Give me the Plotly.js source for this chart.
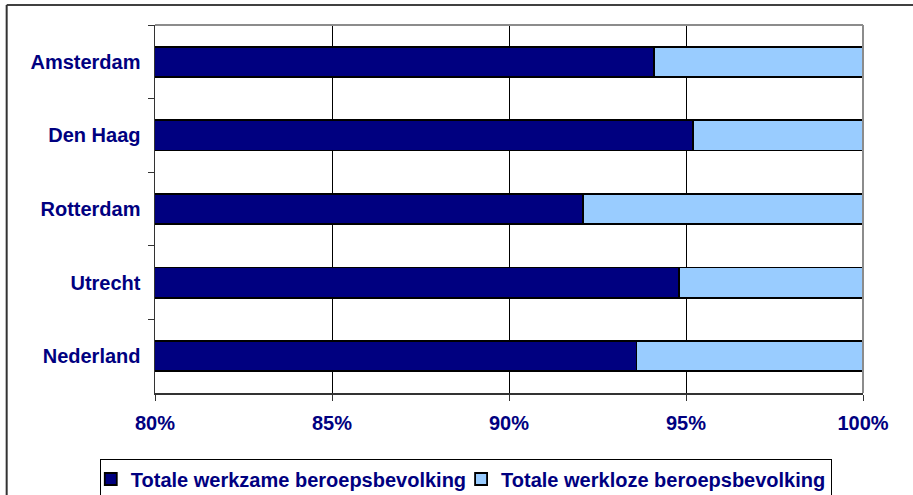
<!DOCTYPE html>
<html>
<head>
<meta charset="utf-8">
<script src="https://cdn.plot.ly/plotly-3.0.1.min.js"></script>
<style>
html,body{margin:0;padding:0;background:#fff;}
#chart{width:913px;height:495px;}
</style>
</head>
<body>
<div id="chart"></div>
<script>
const categories = ["Amsterdam", "Den Haag", "Rotterdam", "Utrecht", "Nederland"];
const werkzame = [94.1, 95.2, 92.1, 94.8, 93.6];
const werkloze = [5.9, 4.8, 7.9, 5.2, 6.4];
const xTickVals = [80, 85, 90, 95, 100];
const xTickText = ["80%", "85%", "90%", "95%", "100%"];
const seriesNames = ["Totale werkzame beroepsbevolking", "Totale werkloze beroepsbevolking"];

const navy = "#000080";
const font = "'Liberation Sans', Arial, sans-serif";

const traces = [
  {
    type: "bar", orientation: "h", name: seriesNames[0],
    y: categories, x: werkzame,
    marker: {color: navy, line: {color: "#000000", width: 1.8}},
    hoverinfo: "x+y"
  },
  {
    type: "bar", orientation: "h", name: seriesNames[1],
    y: categories, x: werkloze,
    marker: {color: "#99CCFF", line: {color: "#000000", width: 1.8}},
    hoverinfo: "x+y"
  }
];

const layout = {
  width: 913, height: 495,
  margin: {l: 155, r: 50, t: 25, b: 102, autoexpand: false},
  paper_bgcolor: "#ffffff",
  plot_bgcolor: "#ffffff",
  barmode: "stack",
  bargap: 0.59,
  showlegend: true,
  font: {family: font, color: navy, size: 20},
  xaxis: {
    range: [80, 100],
    tickvals: xTickVals, ticktext: xTickText,
    showgrid: true, gridcolor: "#000000", gridwidth: 1,
    zeroline: false,
    showline: true, linecolor: "#333333", linewidth: 1.5,
    ticks: "outside", ticklen: 6, tickcolor: "#333333", tickwidth: 1,
    ticklabelstandoff: 5,
    tickfont: {family: font, size: 20, color: navy, weight: "bold"},
    fixedrange: true
  },
  yaxis: {
    type: "category",
    autorange: "reversed",
    tickson: "boundaries",
    showgrid: false,
    zeroline: false,
    showline: true, linecolor: "#333333", linewidth: 1.5,
    ticks: "outside", ticklen: 6, tickcolor: "#333333", tickwidth: 1,
    ticklabelstandoff: 9,
    tickfont: {family: font, size: 20, color: navy, weight: "bold"},
    fixedrange: true
  },
  legend: {
    orientation: "h",
    x: -0.078, xanchor: "left",
    y: -0.178, yanchor: "top",
    bgcolor: "#ffffff",
    bordercolor: "#000000", borderwidth: 1,
    indentation: -10,
    font: {family: font, size: 20, color: navy, weight: "bold"},
    traceorder: "normal",
    itemclick: false, itemdoubleclick: false
  },
  shapes: [
    {type: "line", xref: "paper", yref: "paper", x0: 0, x1: 1, y0: 1, y1: 1,
     line: {color: "#8c8c8c", width: 2}},
    {type: "line", xref: "paper", yref: "paper", x0: 1, x1: 1, y0: 0, y1: 1,
     line: {color: "#8c8c8c", width: 2}},
    {type: "line", xref: "paper", yref: "paper", x0: -0.2095, x1: 1.2, y0: 1.0544, y1: 1.0544,
     line: {color: "#000000", width: 1.5}},
    {type: "line", xref: "paper", yref: "paper", x0: -0.2095, x1: -0.2095, y0: -0.4, y1: 1.0544,
     line: {color: "#333333", width: 2}}
  ]
};

Plotly.newPlot("chart", traces, layout, {displayModeBar: false, staticPlot: true});
</script>
</body>
</html>
